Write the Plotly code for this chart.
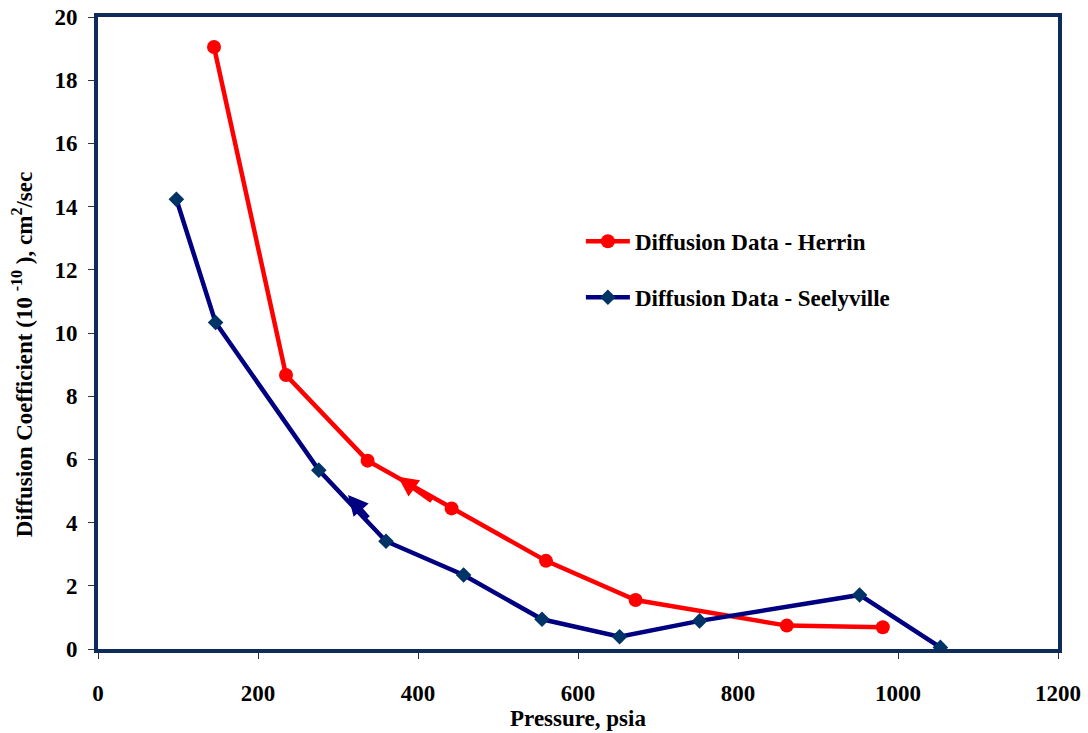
import plotly.graph_objects as go

# Data
herrin_pressure = [145, 235, 337, 442, 560, 672, 861, 981]
herrin_diff = [19.05, 8.67, 5.96, 4.45, 2.79, 1.55, 0.74, 0.69]

seely_pressure = [98, 147, 276, 360, 457, 555, 652, 752, 952, 1053]
seely_diff = [14.23, 10.33, 5.66, 3.41, 2.34, 0.94, 0.39, 0.89, 1.71, 0.05]

# Direction arrows drawn on the curves (head, tail) in data units
herrin_arrow_head = (375, 5.45)
herrin_arrow_tail = (419, 4.66)
seely_arrow_head = (312.5, 4.87)
seely_arrow_tail = (339, 4.10)

x_ticks = [0, 200, 400, 600, 800, 1000, 1200]
y_ticks = [0, 2, 4, 6, 8, 10, 12, 14, 16, 18, 20]

FONT = "Liberation Serif"
FRAME = "#0E2C5A"

fig = go.Figure()
fig.add_trace(go.Scatter(
    x=herrin_pressure, y=herrin_diff, mode="lines+markers",
    name="<b>Diffusion Data - Herrin</b>", legendgroup="h",
    line=dict(color="#FF0000", width=4.5),
    marker=dict(symbol="circle", size=14, color="#FF0000"),
))
fig.add_trace(go.Scatter(
    x=seely_pressure, y=seely_diff, mode="lines+markers",
    name="<b>Diffusion Data - Seelyville</b>", legendgroup="s",
    line=dict(color="#000080", width=4.5),
    marker=dict(symbol="diamond", size=12, color="#003366"),
))

for head, tail, col in [(herrin_arrow_head, herrin_arrow_tail, "#FF0000"),
                        (seely_arrow_head, seely_arrow_tail, "#000080")]:
    fig.add_annotation(x=head[0], y=head[1], ax=tail[0], ay=tail[1],
                       xref="x", yref="y", axref="x", ayref="y",
                       text="", showarrow=True, arrowhead=2, arrowsize=0.8,
                       arrowwidth=5, arrowcolor=col)

fig.add_annotation(
    text="<b>Diffusion Coefficient (10 <sup>-10</sup> ), cm<sup>2</sup>/sec</b>",
    xref="paper", yref="paper", x=-0.079, y=0.465, textangle=-90,
    showarrow=False, xanchor="center", yanchor="middle",
    font=dict(family=FONT, size=23, color="black"),
)

axis_common = dict(
    showline=True, linecolor=FRAME, linewidth=4, mirror=True,
    ticks="outside", ticklen=6, tickcolor="#333333", tickwidth=1,
    showgrid=False, zeroline=False,
    tickfont=dict(family=FONT, size=23, color="black"),
)

fig.update_xaxes(range=[0, 1200], tickvals=x_ticks,
                 ticktext=[f"<b>{v}</b>" for v in x_ticks],
                 ticklabelstandoff=14,
                 title=dict(text="<b>Pressure, psia</b>", standoff=5,
                            font=dict(family=FONT, size=23, color="black")),
                 **axis_common)
fig.update_yaxes(range=[0, 20], tickvals=y_ticks,
                 ticktext=[f"<b>{v}</b>" for v in y_ticks],
                 ticklabelstandoff=6,
                 **axis_common)

fig.update_layout(
    width=1088, height=733,
    margin=dict(l=98, r=30, t=17, b=84, autoexpand=False),
    plot_bgcolor="white", paper_bgcolor="white",
    showlegend=True,
    legend=dict(x=0.503, y=0.679, xanchor="left", yanchor="top",
                font=dict(family=FONT, size=23, color="black"),
                itemwidth=44, tracegroupgap=23, bgcolor="rgba(0,0,0,0)"),
)

fig.write_html("out.html")
